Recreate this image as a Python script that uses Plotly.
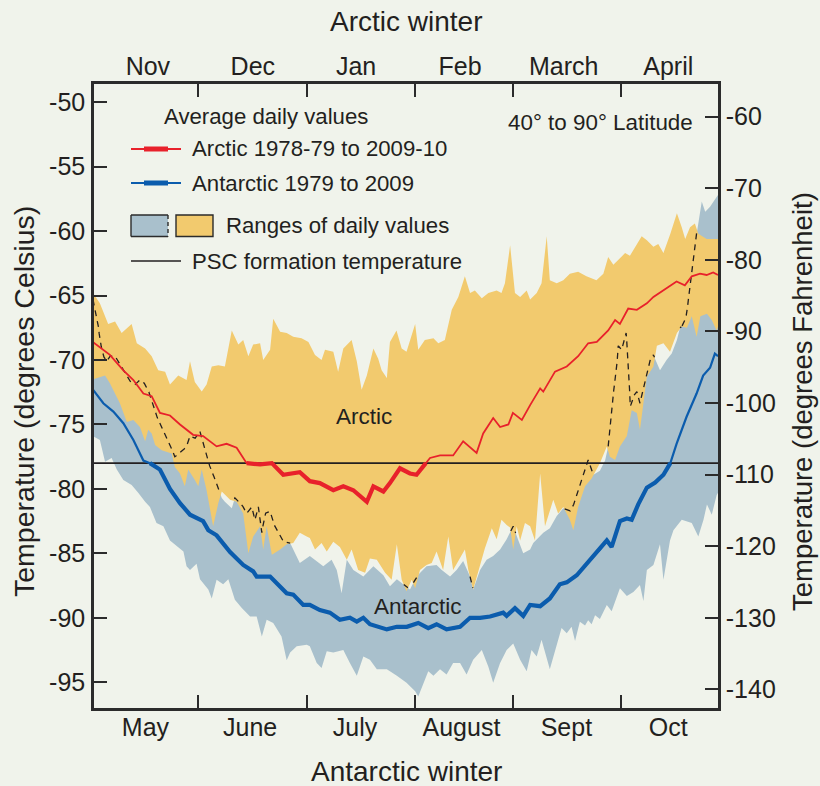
import numpy as np
import plotly.graph_objects as go

# ---------------- DATA (x = days from start of window, y = deg C) ----------------
ARC_MEAN_X = [0, 4.9, 8.8, 11.7, 14.6, 17.0, 19.4, 22.3, 25.2, 29.0, 31.9, 35.8, 38.7, 41.6, 44.5, 48.4, 51.8,
              55.1, 59.9, 62.8, 65.7, 69.6, 72.5, 75.4, 79.3, 81.2, 84.1, 86.0, 88.9, 91.8, 93.7, 97.6, 100.5,
              104.3, 107.2, 111.1, 113.0, 115.9, 117.9, 120.3, 121.6, 124.2, 126.6, 129.5, 130.4, 133.8, 137.2,
              140.5, 143.4, 145.9, 149.2, 151.2, 152.6, 155.0, 157.5, 160.4, 162.3, 165.2, 169.0, 171.4, 173.4,
              175.8, 177.7, 179.6, 181.0]
ARC_MEAN_Y = [-68.6, -69.6, -70.8, -71.55, -72.6, -72.8, -74.1, -74.3, -75.0, -75.8, -75.9, -76.7, -76.5, -76.8,
              -78.0, -78.1, -78.0, -78.9, -78.7, -79.4, -79.55, -80.1, -79.8, -80.1, -81.0, -79.8, -80.2, -79.55,
              -78.4, -78.8, -78.9, -77.6, -77.4, -77.4, -76.3, -77.2, -75.7, -74.5, -75.2, -75.0, -74.1, -74.65,
              -73.5, -72.2, -72.45, -70.9, -70.5, -69.7, -68.7, -68.6, -67.7, -66.9, -67.2, -66.0, -66.1, -65.6,
              -65.1, -64.6, -63.9, -64.2, -63.5, -63.3, -63.4, -63.2, -63.4]

ANT_MEAN_X = [0, 3.0, 5.9, 8.8, 11.7, 14.6, 16.5, 19.4, 22.3, 25.2, 28.1, 31.9, 33.4, 35.8, 39.7, 43.5, 46.4,
              47.4, 51.3, 56.1, 58.0, 60.9, 62.8, 65.7, 68.6, 71.5, 74.4, 76.4, 78.3, 80.2, 85.1, 88.0, 90.9,
              94.2, 97.1, 99.5, 102.4, 106.3, 109.2, 112.1, 115.0, 118.8, 119.8, 122.2, 124.6, 126.6, 129.5,
              132.3, 135.2, 137.2, 140.1, 142.0, 144.4, 146.8, 148.8, 150.2, 152.6, 154.6, 156.0, 157.9, 160.4,
              162.8, 165.2, 167.2, 169.0, 171.9, 174.8, 176.7, 178.7, 180.1, 181.0]
ANT_MEAN_Y = [-72.3, -73.35, -74.0, -74.9, -76.2, -77.8, -78.0, -78.5, -80.0, -81.1, -82.0, -82.5, -83.2, -83.6,
              -84.9, -85.9, -86.4, -86.8, -86.8, -88.1, -88.2, -89.0, -89.0, -89.4, -89.6, -90.15, -90.0, -90.3,
              -90.0, -90.5, -90.9, -90.7, -90.7, -90.4, -90.8, -90.5, -90.9, -90.7, -90.0, -90.0, -89.9, -89.6,
              -89.85, -89.25, -89.85, -89.0, -89.1, -88.5, -87.4, -87.25, -86.7, -86.1, -85.4, -84.7, -84.0,
              -84.5, -82.5, -82.3, -82.4, -81.2, -79.9, -79.5, -78.9, -78.0, -76.5, -74.4, -72.6, -71.2, -70.6,
              -69.5, -69.7]

ARC_MAX_X = [0, 2.0, 4.4, 6.4, 8.3, 11.2, 12.7, 15.1, 17.0, 18.9, 20.9, 22.3, 24.7, 27.1, 28.1, 29.5, 31.5, 32.9,
             34.4, 36.3, 38.2, 40.2, 42.1, 43.5, 45.0, 46.4, 48.4, 49.3, 51.3, 52.2, 54.2, 56.1, 58.0, 60.4, 62.4,
             64.3, 66.2, 67.2, 69.6, 71.0, 72.5, 73.5, 74.9, 76.4, 77.8, 79.3, 81.2, 82.6, 83.6, 85.1, 86.0, 87.9,
             89.4, 90.8, 93.3, 94.2, 96.1, 98.6, 100.0, 101.9, 103.9, 105.8, 107.7, 109.2, 110.6, 112.6, 114.5,
             116.9, 118.3, 119.3, 120.8, 122.2, 123.7, 125.6, 126.6, 128.5, 129.9, 131.4, 132.3, 134.3, 136.2,
             138.1, 140.5, 142.9, 145.8, 147.8, 149.2, 150.7, 152.1, 154.1, 155.5, 157.0, 158.9, 160.4, 162.3,
             163.7, 165.2, 167.2, 169.1, 170.5, 171.5, 172.9, 174.3, 175.3, 177.7, 181.0]
ARC_MAX_Y = [-64.8, -65.6, -67.2, -67.0, -67.9, -67.2, -68.7, -69.1, -69.7, -70.8, -70.9, -71.9, -71.2, -71.55,
             -70.1, -71.7, -72.45, -71.9, -70.5, -70.4, -70.5, -67.7, -68.8, -68.45, -69.7, -68.8, -68.7, -70.0,
             -69.2, -66.8, -67.8, -67.9, -68.2, -68.3, -68.6, -69.6, -70.0, -69.2, -69.35, -70.9, -69.1, -68.8,
             -68.45, -70.1, -72.3, -71.2, -69.1, -69.9, -70.8, -71.4, -68.6, -67.7, -69.1, -69.35, -67.2, -69.2,
             -68.45, -68.3, -68.7, -68.45, -66.1, -65.1, -63.5, -64.8, -64.6, -65.2, -64.8, -64.6, -64.8, -64.05,
             -61.1, -64.8, -65.1, -64.6, -65.3, -64.8, -64.05, -60.4, -63.8, -64.05, -63.8, -63.3, -63.15, -63.5,
             -63.8, -63.3, -62.0, -62.6, -62.25, -61.7, -61.9, -61.2, -60.4, -60.7, -61.2, -61.0, -61.7, -60.2,
             -58.6, -59.7, -60.6, -59.7, -59.4, -60.2, -60.6, -60.6]

ARC_MIN_X = [0, 3.5, 4.9, 7.8, 9.8, 11.7, 13.6, 15.1, 16.0, 17.0, 18.0, 19.9, 22.8, 23.7, 25.2, 26.6, 27.6, 29.5,
             30.5, 31.5, 32.9, 34.8, 36.3, 37.3, 39.7, 41.6, 43.5, 45.0, 46.4, 48.4, 49.3, 50.3, 51.8, 54.2, 56.1,
             58.0, 59.9, 61.9, 62.8, 64.3, 66.2, 67.7, 69.6, 71.5, 73.5, 74.9, 76.8, 78.8, 80.2, 82.2, 84.6, 86.5,
             88.0, 89.4, 90.8, 92.3, 93.3, 94.7, 96.6, 98.1, 99.5, 101.4, 102.9, 104.3, 105.8, 107.7, 108.7,
             110.1, 112.1, 113.5, 115.5, 116.9, 118.3, 119.8, 120.8, 121.7, 122.7, 123.7, 125.1, 126.6, 128.0,
             129.5, 130.9, 133.3, 134.7, 136.2, 138.1, 139.1, 140.5, 142.5, 144.4, 146.8, 148.8, 149.7, 151.2,
             152.6, 154.6, 156.0, 157.5, 158.4, 160.4, 162.3, 163.3, 165.2, 167.1, 169.1, 170.5, 172.0, 173.4,
             174.8, 175.9, 177.8, 179.2, 180.6, 181.0]
ARC_MIN_Y = [-71.5, -71.2, -71.8, -73.35, -74.8, -74.65, -75.2, -76.3, -75.4, -75.7, -76.6, -77.0, -77.25, -78.3,
             -78.8, -79.8, -78.5, -79.3, -79.8, -78.5, -80.1, -82.9, -81.1, -80.2, -80.85, -81.0, -81.9, -85.0,
             -83.7, -82.9, -84.7, -82.9, -85.1, -84.7, -84.3, -84.2, -83.4, -83.7, -83.8, -84.7, -84.2, -84.85,
             -84.1, -84.5, -85.5, -84.7, -86.3, -86.5, -85.4, -85.5, -86.5, -87.05, -84.3, -87.05, -87.95, -87.05,
             -87.7, -86.3, -85.9, -85.75, -84.85, -86.3, -83.7, -86.3, -85.6, -84.7, -86.3, -87.8, -86.0, -84.6,
             -83.05, -83.9, -82.4, -82.8, -83.0, -84.7, -82.9, -84.0, -82.65, -82.9, -84.0, -78.8, -82.9, -80.85,
             -81.9, -81.4, -82.4, -83.2, -81.4, -79.8, -79.2, -78.0, -76.7, -77.5, -77.75, -76.7, -75.9, -73.9,
             -74.1, -75.4, -71.3, -70.5, -68.9, -68.7, -69.35, -67.9, -67.4, -67.5, -66.6, -68.2, -66.6, -66.4,
             -66.9, -67.7, -67.4]

ANT_MAX_X = [0, 1.5, 2.0, 3.0, 4.0, 4.9, 6.4, 8.8, 10.7, 12.2, 13.6, 14.6, 16.0, 18.0, 19.9, 21.8, 23.7, 25.7,
             27.1, 28.1, 29.5, 31.0, 32.4, 33.9, 35.8, 37.3, 38.2, 40.2, 41.1, 43.1, 44.5, 46.0, 46.9, 47.9, 48.9,
             49.8, 51.3, 52.2, 53.7, 55.1, 57.1, 59.9, 62.8, 64.3, 66.7, 69.1, 70.6, 72.0, 73.5, 75.4, 78.3, 81.2,
             84.1, 86.0, 88.0, 91.8, 93.7, 96.6, 99.5, 101.0, 103.4, 105.3, 107.2, 109.2, 110.1, 112.1, 114.0,
             115.9, 117.9, 119.8, 121.7, 123.2, 124.6, 126.6, 127.5, 130.4, 132.3, 134.3, 136.2, 138.1, 139.1,
             140.5, 142.0, 143.4, 144.9, 146.8, 148.3, 149.2, 150.2, 151.7, 152.1, 153.1, 154.4, 155.1, 155.6,
             156.5, 157.5, 158.4, 159.9, 161.3, 162.3, 164.2, 166.1, 167.6, 169.1, 170.0, 170.5, 171.5, 172.0,
             173.4, 174.4, 175.0, 175.9, 176.3, 177.3, 178.7, 180.2, 181.0]
ANT_MAX_Y = [-65.3, -67.2, -68.45, -69.7, -70.1, -69.7, -69.7, -70.8, -71.7, -71.9, -71.55, -71.7, -72.3, -74.1,
             -75.2, -76.2, -77.5, -77.1, -76.7, -75.9, -76.1, -75.55, -77.0, -78.3, -79.55, -80.7, -81.0, -81.5,
             -80.7, -81.2, -81.9, -81.4, -82.4, -81.4, -83.4, -81.9, -81.75, -82.65, -83.4, -84.1, -84.2, -85.75,
             -85.2, -85.5, -86.0, -85.5, -86.3, -88.1, -85.5, -86.3, -86.8, -86.0, -86.7, -87.55, -87.0, -87.8,
             -86.8, -86.0, -85.9, -86.3, -86.8, -86.3, -85.6, -86.8, -87.8, -86.3, -85.5, -85.2, -84.7, -83.9,
             -82.9, -84.0, -85.0, -84.7, -84.2, -83.4, -83.05, -82.1, -81.5, -81.75, -81.3, -80.1, -79.0, -77.75,
             -78.9, -78.6, -77.8, -76.7, -73.6, -70.5, -68.9, -69.2, -67.9, -70.5, -73.6, -72.8, -72.45, -73.35,
             -71.55, -70.0, -69.6, -70.8, -70.0, -69.5, -68.45, -67.5, -67.4, -66.9, -66.3, -63.0, -60.7, -59.9,
             -58.1, -57.7, -58.5, -58.1, -57.5, -57.2]

ANT_MIN_X = [0, 2.0, 3.5, 5.4, 6.9, 8.8, 11.2, 13.1, 15.1, 16.5, 18.4, 20.4, 22.3, 24.7, 26.2, 27.1, 28.1, 30.0,
             31.0, 33.4, 34.4, 35.8, 37.7, 39.2, 41.1, 43.1, 45.5, 47.4, 48.9, 50.3, 52.2, 54.6, 56.1, 57.1, 59.0,
             61.9, 62.8, 64.8, 66.2, 67.7, 69.6, 72.5, 74.4, 76.4, 78.3, 80.2, 82.2, 85.1, 88.0, 90.8, 93.3, 94.2,
             95.7, 97.1, 98.6, 100.5, 102.4, 104.3, 106.3, 108.2, 110.1, 112.6, 114.5, 115.9, 117.9, 119.8, 121.7,
             123.7, 125.6, 127.0, 128.5, 129.9, 132.3, 133.8, 135.7, 137.2, 138.6, 139.6, 141.0, 142.5, 143.4,
             144.4, 145.4, 146.8, 148.8, 150.2, 152.6, 154.6, 156.5, 158.4, 159.4, 160.4, 162.3, 164.2, 165.2,
             167.1, 168.1, 170.5, 173.4, 175.3, 176.8, 177.8, 179.2, 180.6, 181.0]
ANT_MIN_Y = [-75.9, -76.2, -77.9, -77.6, -78.5, -79.3, -79.7, -80.3, -81.0, -81.4, -82.65, -82.9, -84.0, -84.5,
             -84.85, -86.0, -86.3, -85.8, -87.0, -87.8, -88.5, -87.05, -87.4, -87.0, -88.6, -89.25, -89.9, -89.9,
             -91.45, -90.15, -90.4, -91.45, -93.3, -92.7, -92.2, -92.1, -92.2, -93.5, -93.9, -92.6, -92.7, -92.5,
             -93.5, -94.5, -93.0, -93.25, -94.0, -94.0, -94.5, -95.05, -95.7, -96.1, -95.05, -94.15, -94.5, -94.0,
             -94.4, -93.5, -93.5, -94.4, -93.25, -92.5, -93.8, -95.05, -93.5, -92.5, -92.0, -93.25, -94.15, -92.5,
             -93.0, -91.7, -94.0, -92.7, -90.8, -91.2, -90.7, -91.8, -90.3, -90.6, -90.2, -90.5, -89.8, -90.1,
             -89.0, -89.5, -87.7, -88.3, -88.0, -87.45, -88.7, -86.3, -85.9, -84.3, -87.05, -84.0, -83.2, -82.4,
             -82.65, -83.7, -82.4, -81.2, -82.0, -80.5, -80.3]

PSC_TEMP = -78.0
C_TICKS = [-50, -55, -60, -65, -70, -75, -80, -85, -90, -95]
F_TICKS = [-60, -70, -80, -90, -100, -110, -120, -130, -140]
TOP_MONTHS = ["Nov", "Dec", "Jan", "Feb", "March", "April"]
TOP_MONTH_POS = [15.9, 46.3, 76.2, 106.3, 136.3, 166.6]
BOTTOM_MONTHS = ["May", "June", "July", "August", "Sept", "Oct"]
BOTTOM_MONTH_POS = [15.2, 45.5, 75.9, 106.7, 137.1, 166.6]
MONTH_EDGES = [30.5, 61.9, 93.3, 121.7, 152.8]
X_RANGE = [0.3, 181.0]
C_RANGE = [-97.0, -48.58]

# ---------------- STYLE ----------------
BG = "#f0f3eb"
ORANGE = "#f2ca6e"
STEEL = "#a9c0cc"
RED = "#e8212b"
BLUE = "#0b5cad"
INK = "#231f20"
FONT = "Liberation Sans, Arial, Helvetica, sans-serif"

W, H = 820, 786
PL, PR, PT, PB = 94, 718, 84, 708
PW, PH = PR - PL, PB - PT


def px(x):
    return (x - PL) / PW


def py(y):
    return (PB - y) / PH


def c_to_f(c):
    return c * 9.0 / 5.0 + 32.0


def below(xs, ys, thr):
    """Portions of a polyline at or below thr, with interpolated crossings."""
    ox, oy = [], []
    for i in range(len(xs)):
        x, y = xs[i], ys[i]
        if i > 0:
            x0, y0 = xs[i - 1], ys[i - 1]
            if (y0 > thr) != (y > thr):
                t = (thr - y0) / (y - y0)
                xc = x0 + t * (x - x0)
                ox.append(xc)
                oy.append(thr)
                if y > thr:
                    ox.append(None)
                    oy.append(None)
        if y <= thr:
            ox.append(x)
            oy.append(y)
    return ox, oy


fig = go.Figure()

# Antarctic range (drawn first, covered by the Arctic range)
fig.add_trace(go.Scatter(
    x=ANT_MAX_X + ANT_MIN_X[::-1], y=ANT_MAX_Y + ANT_MIN_Y[::-1],
    fill="toself", fillcolor=STEEL, line=dict(width=0), mode="lines",
    hoverinfo="skip", showlegend=False))

# Arctic range
fig.add_trace(go.Scatter(
    x=ARC_MAX_X + ARC_MIN_X[::-1], y=ARC_MAX_Y + ARC_MIN_Y[::-1],
    fill="toself", fillcolor=ORANGE, line=dict(width=0), mode="lines",
    hoverinfo="skip", showlegend=False))

# PSC formation temperature
fig.add_trace(go.Scatter(x=X_RANGE, y=[PSC_TEMP, PSC_TEMP], mode="lines",
                         line=dict(color=INK, width=1.6), hoverinfo="skip", showlegend=False))

# Hidden upper edge of Antarctic range (dashed where it lies inside the Arctic range)
grid = np.union1d(np.arange(ANT_MAX_X[0], ANT_MAX_X[-1], 0.2), ANT_MAX_X)
smax = np.interp(grid, ANT_MAX_X, ANT_MAX_Y)
amin = np.interp(grid, ARC_MIN_X, ARC_MIN_Y)
amax = np.interp(grid, ARC_MAX_X, ARC_MAX_Y)
inside = (smax > amin) & (smax < amax)
dash_y = [float(v) if ok else None for v, ok in zip(smax, inside)]
fig.add_trace(go.Scatter(x=grid.tolist(), y=dash_y, mode="lines", connectgaps=False,
                         line=dict(color=INK, width=1.3, dash="6px,5px"),
                         hoverinfo="skip", showlegend=False))

# Mean lines: thin everywhere, thick below PSC temperature
fig.add_trace(go.Scatter(x=ARC_MEAN_X, y=ARC_MEAN_Y, mode="lines",
                         line=dict(color=RED, width=1.8), showlegend=False))
bx, by = below(ARC_MEAN_X, ARC_MEAN_Y, PSC_TEMP)
fig.add_trace(go.Scatter(x=bx, y=by, mode="lines", connectgaps=False,
                         line=dict(color=RED, width=4.2), showlegend=False))
fig.add_trace(go.Scatter(x=ANT_MEAN_X, y=ANT_MEAN_Y, mode="lines",
                         line=dict(color=BLUE, width=2.2), showlegend=False))
bx, by = below(ANT_MEAN_X, ANT_MEAN_Y, PSC_TEMP)
fig.add_trace(go.Scatter(x=bx, y=by, mode="lines", connectgaps=False,
                         line=dict(color=BLUE, width=4.2), showlegend=False))

# Dummy trace so the top / right axes exist
fig.add_trace(go.Scatter(x=[None], y=[None], xaxis="x2", yaxis="y2",
                         showlegend=False, hoverinfo="skip"))

tickfont = dict(family=FONT, size=25, color=INK)
axis_line = dict(showline=True, linecolor="#2b2b2b", linewidth=2.5, showgrid=False, zeroline=False)

fig.update_layout(
    width=W, height=H,
    margin=dict(l=PL, r=W - PR, t=PT, b=H - PB, pad=0),
    paper_bgcolor=BG, plot_bgcolor=BG,
    font=dict(family=FONT, color=INK),
    showlegend=False,
    xaxis=dict(range=X_RANGE, tickmode="array", tickvals=BOTTOM_MONTH_POS, ticktext=BOTTOM_MONTHS,
               ticks="", tickfont=tickfont, ticklabelstandoff=-5,
               minor=dict(tickmode="array", tickvals=MONTH_EDGES, ticks="inside", ticklen=13,
                          tickwidth=2, tickcolor="#2b2b2b"),
               **axis_line),
    xaxis2=dict(range=X_RANGE, overlaying="x", side="top", anchor="y", tickmode="array",
                tickvals=TOP_MONTH_POS, ticktext=TOP_MONTHS, ticks="", tickfont=tickfont,
                ticklabelstandoff=-4,
                minor=dict(tickmode="array", tickvals=MONTH_EDGES, ticks="inside", ticklen=13,
                           tickwidth=2, tickcolor="#2b2b2b"),
                **axis_line),
    yaxis=dict(range=C_RANGE, tickmode="array", tickvals=C_TICKS,
               ticktext=[str(v) for v in C_TICKS], ticks="inside", ticklen=13, tickwidth=2,
               tickcolor="#2b2b2b", tickfont=tickfont, ticklabelstandoff=1, **axis_line),
    yaxis2=dict(range=[c_to_f(C_RANGE[0]), c_to_f(C_RANGE[1])], overlaying="y", side="right",
                anchor="x", tickmode="array", tickvals=F_TICKS, ticktext=[str(v) for v in F_TICKS],
                ticks="inside", ticklen=13, tickwidth=2, tickcolor="#2b2b2b", tickfont=tickfont,
                ticklabelstandoff=0, **axis_line),
)

ann = []


def text(x, y, s, size, xanchor="center", textangle=0, xref="paper", yref="paper"):
    ann.append(dict(x=x, y=y, xref=xref, yref=yref, text=s, showarrow=False, xanchor=xanchor,
                    yanchor="middle", textangle=textangle,
                    font=dict(family=FONT, size=size, color=INK)))


# Titles
text(px(406), py(22), "Arctic winter", 28)
text(px(406), py(771), "Antarctic winter", 28)
text(px(24), py(402), "Temperature (degrees Celsius)", 28.5, textangle=-90)
text(px(802), py(402), "Temperature (degrees Fahrenheit)", 27.5, textangle=-90)
text(px(695), py(122), "40° to 90° Latitude", 22.4, xanchor="right")

# In-plot labels (data coordinates)
text(78.5, -74.35, "Arctic", 22.5, xref="x", yref="y")
text(94.1, -89.1, "Antarctic", 22.5, xref="x", yref="y")

# Legend texts
text(px(162), py(116), "Average daily values", 22.2, xanchor="left")
text(px(190), py(149), "Arctic 1978-79 to 2009-10", 22.2, xanchor="left")
text(px(190), py(183), "Antarctic 1979 to 2009", 22.2, xanchor="left")
text(px(224), py(226), "Ranges of daily values", 22.2, xanchor="left")
text(px(190), py(261), "PSC formation temperature", 22.2, xanchor="left")

shapes = []


def seg(x0, y0, x1, y1, color, width, dash="solid"):
    shapes.append(dict(type="line", xref="paper", yref="paper", x0=px(x0), y0=py(y0),
                       x1=px(x1), y1=py(y1), line=dict(color=color, width=width, dash=dash)))


# legend keys
seg(131, 149, 181, 149, RED, 2)
seg(144, 149, 168, 149, RED, 5)
seg(131, 183, 181, 183, BLUE, 2.2)
seg(144, 183, 168, 183, BLUE, 5)
shapes.append(dict(type="rect", xref="paper", yref="paper", x0=px(131), y0=py(236.5), x1=px(168),
                   y1=py(215), fillcolor=STEEL, line=dict(width=0)))
seg(131, 215, 168, 215, "#2b2b2b", 1.4)
seg(131, 236.5, 168, 236.5, "#2b2b2b", 1.4)
seg(131, 215, 131, 236.5, "#2b2b2b", 1.4)
seg(168, 215, 168, 236.5, "#2b2b2b", 1.4, dash="4px,3px")
shapes.append(dict(type="rect", xref="paper", yref="paper", x0=px(176), y0=py(236.5), x1=px(213),
                   y1=py(215), fillcolor=ORANGE, line=dict(color="#2b2b2b", width=1.4)))
seg(131, 261, 181, 261, INK, 1.6)

fig.update_layout(annotations=ann, shapes=shapes)

fig.write_html("out.html",
               config={"displayModeBar": False},
               post_script="document.body.style.margin='0';"
                           "document.body.style.background='" + BG + "';"
                           "document.body.style.overflow='hidden';")
